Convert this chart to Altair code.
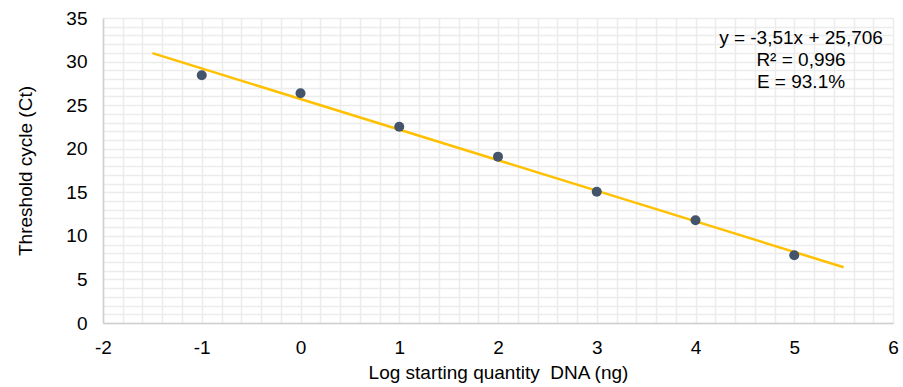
import altair as alt
import pandas as pd

# Standard curve: log10 of starting DNA quantity vs. threshold cycle
log_qty = [-1, 0, 1, 2, 3, 4, 5]
ct_vals = [28.43, 26.36, 22.53, 19.09, 15.07, 11.79, 7.77]

# Linear fit reported on the chart
slope = -3.51
intercept = 25.706
fit_range = [-1.5, 5.5]

annotation = ["y = -3,51x + 25,706", "R² = 0,996", "E = 93.1%"]

FONT = "Liberation Sans"

points = pd.DataFrame({"x": log_qty, "ct": ct_vals})
fit = pd.DataFrame({"x": fit_range, "ct": [slope * v + intercept for v in fit_range]})

# Minor gridlines every 0.2 on x and every 1 on y; labels only on the major steps
x_grid = [round(-2 + 0.2 * i, 1) for i in range(41)]
y_grid = list(range(0, 36))

x_scale = alt.Scale(domain=[-2, 6], nice=False, zero=False)
y_scale = alt.Scale(domain=[0, 35], nice=False)

x_axis = alt.Axis(
    values=x_grid,
    tickCount=500,
    labelExpr="abs(datum.value - round(datum.value)) < 0.001 ? '' + round(datum.value) : ''",
    title="Log starting quantity\u00a0 DNA (ng)",
    titleFont=FONT, titleFontSize=19, titleFontWeight="normal", titleColor="#000000",
    titlePadding=6,
    labelFont=FONT, labelFontSize=19, labelColor="#000000", labelPadding=15,
    labelOverlap=False, labelFlush=False,
    ticks=False, domainColor="#cfcfcf", domainWidth=1.5,
    gridColor="#ececec", gridWidth=1.5,
)
y_axis = alt.Axis(
    values=y_grid,
    tickCount=500,
    labelExpr="datum.value % 5 == 0 ? '' + datum.value : ''",
    title="Threshold cycle (Ct)",
    titleFont=FONT, titleFontSize=19, titleFontWeight="normal", titleColor="#000000",
    titlePadding=30,
    labelFont=FONT, labelFontSize=19, labelColor="#000000", labelPadding=16,
    labelOverlap=False, labelFlush=False,
    ticks=False, domainColor="#cfcfcf", domainWidth=1.5,
    gridColor="#ececec", gridWidth=1.5,
)

line = alt.Chart(fit).mark_line(color="#FFC000", strokeWidth=2.5).encode(
    x=alt.X("x:Q", scale=x_scale, axis=x_axis),
    y=alt.Y("ct:Q", scale=y_scale, axis=y_axis),
)

dots = alt.Chart(points).mark_circle(size=100, color="#44546A", opacity=1).encode(
    x=alt.X("x:Q", scale=x_scale), y=alt.Y("ct:Q", scale=y_scale)
)

# Regression summary, one centred line each
note_layers = [
    alt.Chart(pd.DataFrame({"t": [txt]})).mark_text(
        font=FONT, fontSize=19, color="#000000", align="center", baseline="alphabetic"
    ).encode(x=alt.value(698), y=alt.value(25.5 + 22 * i), text="t:N")
    for i, txt in enumerate(annotation)
]

chart = (
    alt.layer(line, dots, *note_layers)
    .properties(
        width=790,
        height=305,
        autosize=alt.AutoSizeParams(type="none"),
        padding={"left": 103, "top": 18, "right": 10, "bottom": 64},
        background="#ffffff",
    )
    .configure_view(stroke=None)
)

chart.save("out.html", embed_options={"renderer": "svg", "actions": False})
